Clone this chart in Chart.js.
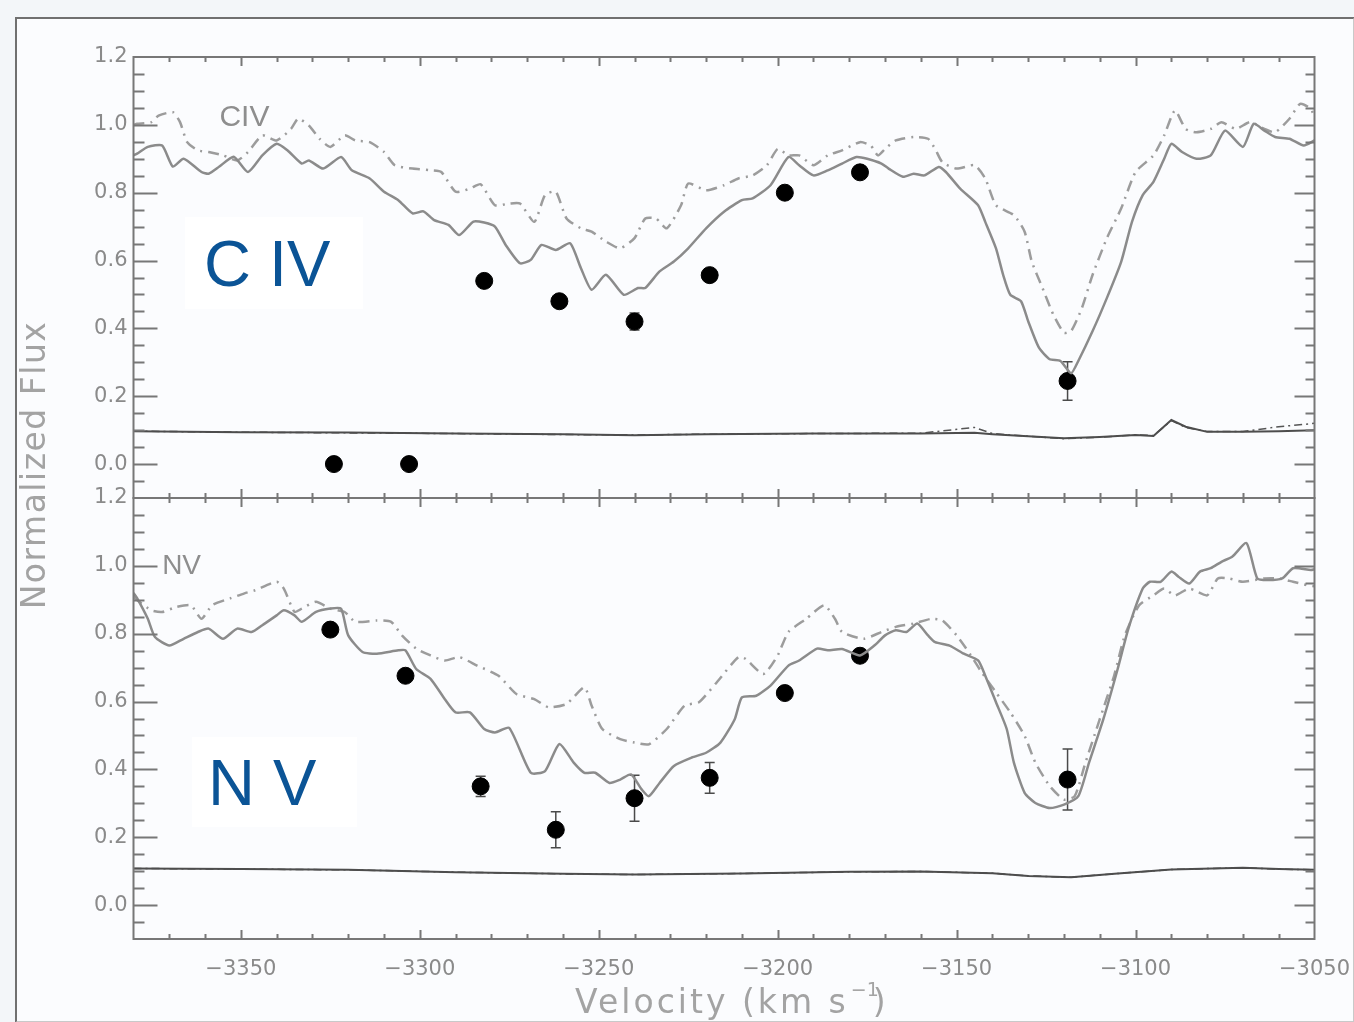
<!DOCTYPE html>
<html lang="en">
<head>
<meta charset="UTF-8">
<title>C IV / N V absorption profiles</title>
<script src="https://cdn.jsdelivr.net/npm/chart.js@4.4.0/dist/chart.umd.min.js"></script>
<style>
  html, body { margin: 0; padding: 0; background: #f3f6f9; }
  #wrap { position: relative; width: 1354px; height: 1022px; overflow: hidden; }
  #frame { position: absolute; left: 15px; top: 17px; width: 1336px; height: 1002px;
           border: 2px solid #707070; border-right-color: #c9c9c9; border-bottom-color: #c9c9c9;
           background: #fbfcfe; }
  #plot { position: absolute; left: 0; top: 0; }
  .ion { position: absolute; background: #fff; }
  .ion span { position: absolute; color: #0b5496; font-family: 'Liberation Sans', Arial, sans-serif;
              font-size: 65px; line-height: 65px; white-space: nowrap; }
</style>
</head>
<body>
<div id="wrap">
  <div id="frame"></div>
  <canvas id="plot" width="1354" height="1022"></canvas>
  <div class="ion" style="left:185px; top:217px; width:178px; height:92px;"><span style="left:19px; top:14px;">C IV</span></div>
  <div class="ion" style="left:192px; top:737px; width:165px; height:90px;"><span style="left:16px; top:13px;">N V</span></div>
</div>

<script>
// ---- C IV panel ----
const civSolidVel = [-3380, -3379, -3376, -3372, -3369, -3366, -3361, -3359, -3356, -3352, -3348, -3344, -3340, -3337, -3333, -3331, -3327, -3322, -3319, -3314, -3310, -3306, -3302, -3299, -3296, -3292, -3289, -3285, -3282, -3279, -3276, -3272, -3269, -3266, -3262, -3258, -3255, -3252, -3248, -3243, -3239, -3237, -3233, -3229, -3225, -3220, -3215, -3210, -3207, -3202, -3197, -3194, -3190, -3186, -3182, -3178, -3175, -3171, -3169, -3165, -3162, -3159, -3155, -3153, -3149, -3144, -3142, -3139, -3137, -3135, -3132, -3130, -3127, -3124, -3121, -3118, -3116, -3112, -3108, -3104, -3101, -3098, -3095, -3092, -3090, -3087, -3083, -3079, -3075, -3070, -3067, -3064, -3061, -3057, -3053, -3050];
const civSolidFlux = [0.91, 0.915, 0.935, 0.939, 0.877, 0.90, 0.861, 0.856, 0.877, 0.906, 0.861, 0.91, 0.944, 0.925, 0.886, 0.895, 0.871, 0.905, 0.866, 0.842, 0.803, 0.778, 0.739, 0.745, 0.719, 0.705, 0.675, 0.715, 0.712, 0.70, 0.646, 0.592, 0.602, 0.646, 0.631, 0.651, 0.578, 0.514, 0.558, 0.499, 0.519, 0.519, 0.568, 0.597, 0.636, 0.695, 0.744, 0.778, 0.783, 0.822, 0.905, 0.881, 0.851, 0.866, 0.886, 0.905, 0.90, 0.886, 0.871, 0.847, 0.856, 0.851, 0.876, 0.861, 0.812, 0.763, 0.714, 0.636, 0.558, 0.499, 0.48, 0.421, 0.343, 0.309, 0.304, 0.268, 0.304, 0.392, 0.49, 0.597, 0.714, 0.793, 0.832, 0.90, 0.944, 0.92, 0.90, 0.91, 0.983, 0.935, 1.003, 0.983, 0.964, 0.959, 0.939, 0.954];

const civDashVel = [-3380, -3379, -3375, -3373, -3369, -3367, -3365, -3362, -3359, -3355, -3351, -3348, -3344, -3340, -3336, -3334, -3331, -3328, -3325, -3321, -3318, -3314, -3310, -3307, -3302, -3297, -3294, -3290, -3286, -3283, -3279, -3275, -3272, -3268, -3265, -3262, -3259, -3255, -3252, -3248, -3244, -3240, -3237, -3234, -3231, -3227, -3225, -3220, -3215, -3211, -3207, -3203, -3200, -3197, -3194, -3190, -3186, -3182, -3177, -3174, -3172, -3170, -3167, -3162, -3158, -3156, -3154, -3150, -3145, -3142, -3139, -3134, -3131, -3129, -3126, -3123, -3120, -3118, -3115, -3112, -3108, -3104, -3100, -3095, -3092, -3089, -3086, -3083, -3079, -3076, -3072, -3068, -3064, -3061, -3057, -3054, -3051, -3050];
const civDashFlux = [1.0, 1.003, 1.008, 1.027, 1.037, 1.008, 0.949, 0.925, 0.92, 0.91, 0.895, 0.92, 0.969, 0.954, 0.988, 1.018, 0.998, 0.959, 0.935, 0.969, 0.954, 0.949, 0.92, 0.881, 0.871, 0.866, 0.861, 0.803, 0.812, 0.825, 0.763, 0.768, 0.768, 0.714, 0.793, 0.803, 0.724, 0.695, 0.685, 0.656, 0.636, 0.666, 0.724, 0.724, 0.695, 0.763, 0.827, 0.807, 0.822, 0.842, 0.851, 0.881, 0.929, 0.91, 0.91, 0.881, 0.91, 0.925, 0.949, 0.939, 0.91, 0.929, 0.954, 0.964, 0.959, 0.929, 0.89, 0.871, 0.881, 0.842, 0.763, 0.734, 0.685, 0.597, 0.519, 0.441, 0.387, 0.392, 0.46, 0.558, 0.666, 0.754, 0.861, 0.91, 0.969, 1.042, 0.988, 0.978, 0.988, 1.008, 0.988, 1.008, 0.988, 0.978, 1.018, 1.062, 1.047, 1.018];

const civErrVel = [-3380, -3350, -3320, -3290, -3260, -3240, -3220, -3190, -3160, -3145, -3140, -3130, -3120, -3110, -3100, -3095, -3090, -3086, -3080, -3070, -3060, -3050];
const civErrFlux = [0.097, 0.094, 0.093, 0.09, 0.088, 0.085, 0.088, 0.09, 0.09, 0.092, 0.088, 0.082, 0.076, 0.08, 0.086, 0.083, 0.13, 0.11, 0.095, 0.095, 0.097, 0.1];
const civErrDashFlux = [0.097, 0.094, 0.092, 0.09, 0.087, 0.086, 0.088, 0.09, 0.091, 0.108, 0.09, 0.082, 0.075, 0.079, 0.086, 0.084, 0.128, 0.108, 0.096, 0.096, 0.11, 0.12];

const civPointVel = [-3324, -3303, -3282, -3261, -3240, -3219, -3198, -3177, -3119];
const civPointFlux = [0.0, 0.0, 0.54, 0.48, 0.42, 0.557, 0.80, 0.86, 0.245];
const civPointErr = [0.0, 0.0, 0.01, 0.015, 0.025, 0.01, 0.01, 0.01, 0.057];

// ---- N V panel ----
const nvSolidVel = [-3380, -3379, -3376, -3374, -3370, -3366, -3362, -3359, -3355, -3351, -3347, -3344, -3340, -3338, -3335, -3333, -3329, -3325, -3322, -3320, -3316, -3312, -3306, -3304, -3301, -3297, -3293, -3290, -3286, -3282, -3279, -3275, -3269, -3265, -3261, -3257, -3254, -3251, -3247, -3244, -3241, -3238, -3236, -3233, -3229, -3224, -3220, -3216, -3212, -3210, -3206, -3202, -3197, -3194, -3189, -3186, -3182, -3177, -3173, -3170, -3167, -3164, -3161, -3158, -3156, -3152, -3148, -3144, -3142, -3139, -3136, -3134, -3131, -3128, -3124, -3120, -3116, -3113, -3109, -3105, -3102, -3098, -3096, -3093, -3090, -3088, -3085, -3082, -3079, -3076, -3073, -3069, -3066, -3063, -3059, -3056, -3051, -3050];
const nvSolidFlux = [0.92, 0.905, 0.844, 0.79, 0.765, 0.785, 0.805, 0.815, 0.785, 0.815, 0.805, 0.825, 0.854, 0.869, 0.854, 0.835, 0.864, 0.874, 0.874, 0.795, 0.746, 0.741, 0.751, 0.751, 0.696, 0.667, 0.607, 0.568, 0.568, 0.519, 0.509, 0.522, 0.39, 0.395, 0.475, 0.42, 0.39, 0.39, 0.36, 0.37, 0.385, 0.341, 0.321, 0.36, 0.41, 0.435, 0.449, 0.479, 0.548, 0.612, 0.617, 0.647, 0.706, 0.721, 0.756, 0.751, 0.755, 0.736, 0.765, 0.795, 0.81, 0.805, 0.83, 0.795, 0.775, 0.765, 0.741, 0.721, 0.676, 0.598, 0.519, 0.42, 0.331, 0.301, 0.286, 0.296, 0.321, 0.42, 0.548, 0.696, 0.815, 0.933, 0.953, 0.953, 0.983, 0.968, 0.948, 0.983, 0.993, 1.012, 1.027, 1.067, 0.963, 0.958, 0.963, 0.993, 0.988, 0.99];

const nvDashVel = [-3380, -3379, -3375, -3372, -3368, -3364, -3361, -3358, -3353, -3349, -3346, -3340, -3338, -3335, -3333, -3329, -3325, -3321, -3318, -3312, -3308, -3305, -3301, -3297, -3293, -3289, -3284, -3278, -3273, -3268, -3264, -3259, -3254, -3252, -3249, -3244, -3240, -3236, -3231, -3226, -3222, -3217, -3211, -3209, -3204, -3200, -3197, -3192, -3187, -3184, -3182, -3176, -3171, -3167, -3162, -3157, -3154, -3150, -3146, -3143, -3139, -3135, -3131, -3128, -3124, -3120, -3117, -3114, -3110, -3106, -3103, -3099, -3095, -3092, -3089, -3085, -3080, -3077, -3074, -3070, -3064, -3060, -3056, -3052, -3050];
const nvDashFlux = [0.91, 0.899, 0.869, 0.864, 0.879, 0.884, 0.844, 0.884, 0.904, 0.919, 0.928, 0.953, 0.933, 0.864, 0.874, 0.894, 0.874, 0.864, 0.835, 0.839, 0.835, 0.795, 0.756, 0.736, 0.721, 0.731, 0.706, 0.676, 0.622, 0.607, 0.583, 0.593, 0.642, 0.588, 0.519, 0.489, 0.479, 0.474, 0.519, 0.588, 0.598, 0.657, 0.731, 0.726, 0.681, 0.736, 0.805, 0.844, 0.884, 0.844, 0.805, 0.785, 0.805, 0.82, 0.83, 0.844, 0.839, 0.795, 0.736, 0.686, 0.627, 0.568, 0.499, 0.42, 0.351, 0.311, 0.321, 0.42, 0.548, 0.676, 0.795, 0.884, 0.913, 0.933, 0.913, 0.933, 0.913, 0.963, 0.963, 0.953, 0.963, 0.963, 0.953, 0.943, 0.94];

const nvErrVel = [-3380, -3350, -3320, -3290, -3260, -3240, -3210, -3180, -3160, -3140, -3130, -3118, -3105, -3090, -3070, -3060, -3050];
const nvErrFlux = [0.108, 0.106, 0.104, 0.097, 0.092, 0.09, 0.093, 0.098, 0.099, 0.094, 0.086, 0.082, 0.093, 0.105, 0.11, 0.106, 0.104];

const nvPointVel = [-3325, -3304, -3283, -3262, -3240, -3219, -3198, -3177, -3119];
const nvPointFlux = [0.812, 0.676, 0.35, 0.222, 0.315, 0.375, 0.625, 0.735, 0.37];
const nvPointErr = [0.01, 0.01, 0.03, 0.053, 0.068, 0.045, 0.01, 0.01, 0.09];

// x ticks / y ticks
const velMin = -3380, velMax = -3050, velStep = 50, velMinor = 10;
const fluxMin = -0.1, fluxMax = 1.2, fluxStep = 0.2, fluxMinor = 0.05;

function pairs(xs, ys) {
  return xs.map((x, i) => ({ x: x, y: ys[i] }));
}

const solidGrey = '#8b8b8b';
const dashGrey = '#9c9c9c';
const dashDot = [11, 6, 2, 6];

function line(xs, ys, axis, color, width, dash, smooth) {
  return {
    data: pairs(xs, ys), yAxisID: axis, borderColor: color, borderWidth: width,
    borderDash: dash || [], pointRadius: 0, tension: smooth || 0, showLine: true, fill: false
  };
}

function dots(xs, ys, errs, axis) {
  return {
    data: pairs(xs, ys), yAxisID: axis, showLine: false, pointRadius: 8.5,
    pointBackgroundColor: '#000', pointBorderColor: '#000', pointBorderWidth: 1,
    errors: errs
  };
}

// draws the vertical error bars of a point set, under the dots
const errorBars = {
  id: 'errorBars',
  beforeDatasetDraw(chart, args) {
    const ds = chart.data.datasets[args.index];
    if (!ds.errors) return;
    const ctx = chart.ctx;
    const x = chart.scales.x, y = chart.scales[ds.yAxisID];
    ctx.save();
    ctx.strokeStyle = '#4a4a4a';
    ctx.lineWidth = 1.5;
    ds.data.forEach((p, i) => {
      const e = ds.errors[i];
      if (!e) return;
      const px = x.getPixelForValue(p.x);
      const y1 = y.getPixelForValue(p.y + e), y2 = y.getPixelForValue(p.y - e);
      ctx.beginPath();
      ctx.moveTo(px, y1); ctx.lineTo(px, y2);
      ctx.moveTo(px - 5, y1); ctx.lineTo(px + 5, y1);
      ctx.moveTo(px - 5, y2); ctx.lineTo(px + 5, y2);
      ctx.stroke();
    });
    ctx.restore();
  }
};

// IDL style box: frame on each panel, ticks pointing inwards on all four sides
const panelBox = {
  id: 'panelBox',
  afterDatasetsDraw(chart) {
    const ctx = chart.ctx;
    const x = chart.scales.x;
    ctx.save();
    ctx.strokeStyle = '#777';
    ctx.lineWidth = 2;
    ['yTop', 'yBot'].forEach(id => {
      const y = chart.scales[id];
      ctx.strokeRect(x.left, y.top, x.right - x.left, y.bottom - y.top);
      ctx.beginPath();
      const n = Math.round((fluxMax - fluxMin) / fluxMinor);
      for (let i = 1; i < n; i++) {
        const v = fluxMin + i * fluxMinor;
        const major = Math.abs(Math.round(v / fluxStep) * fluxStep - v) < 1e-6;
        const py = Math.round(y.getPixelForValue(v)) + 0.5;
        ctx.moveTo(x.left, py); ctx.lineTo(x.left + (major ? 24 : 11), py);
        ctx.moveTo(x.right, py); ctx.lineTo(x.right - (major ? 20 : 9), py);
      }
      for (let v = velMin + velMinor; v < velMax; v += velMinor) {
        const major = v % velStep === 0;
        const px = Math.round(x.getPixelForValue(v)) + 0.5;
        const len = major ? 9 : 5;
        ctx.moveTo(px, y.top); ctx.lineTo(px, y.top + len);
        ctx.moveTo(px, y.bottom); ctx.lineTo(px, y.bottom - len);
      }
      ctx.stroke();
    });
    ctx.restore();
  }
};

function spaced(ctx, text, x, y, gap) {
  ctx.letterSpacing = gap + 'px';
  ctx.fillText(text, x, y);
  ctx.letterSpacing = '0px';
}

// ion names inside the frames and the two axis titles
const labels = {
  id: 'labels',
  afterDraw(chart) {
    const ctx = chart.ctx;
    const x = chart.scales.x, yT = chart.scales.yTop, yB = chart.scales.yBot;
    ctx.save();
    ctx.fillStyle = '#8e8e8e';
    ctx.font = '30px "Liberation Sans", Arial, sans-serif';
    ctx.textBaseline = 'middle';
    ctx.textAlign = 'left';
    ctx.fillText('CIV', x.getPixelForValue(-3356), yT.getPixelForValue(1.02));
    ctx.font = '28px "Liberation Sans", Arial, sans-serif';
    ctx.fillText('NV', x.getPixelForValue(-3372), yB.getPixelForValue(1.0));

    ctx.fillStyle = '#a3a3a3';
    ctx.font = '33px "DejaVu Sans", sans-serif';
    ctx.textAlign = 'center';
    ctx.textBaseline = 'alphabetic';
    ctx.save();
    ctx.translate(45, 465);
    ctx.rotate(-Math.PI / 2);
    spaced(ctx, 'Normalized Flux', 0, 0, 1.5);
    ctx.restore();

    ctx.textAlign = 'left';
    const main = 'Velocity (km s';
    ctx.letterSpacing = '3px';
    const w = ctx.measureText(main).width;
    const x0 = 575;
    ctx.fillText(main, x0, 1013);
    ctx.letterSpacing = '0px';
    ctx.font = '19px "DejaVu Sans", sans-serif';
    ctx.fillText('\u22121', x0 + w + 2, 996);
    ctx.font = '33px "DejaVu Sans", sans-serif';
    ctx.fillText(')', x0 + w + 24, 1013);
    ctx.restore();
  }
};

const tickFont = { family: '"DejaVu Sans", sans-serif', size: 21 };
const tickColor = '#8a8a8a';

function fluxAxis() {
  return {
    type: 'linear', position: 'left', stack: 'panels', stackWeight: 1,
    min: fluxMin, max: fluxMax,
    grid: { display: false, drawTicks: false }, border: { display: false },
    ticks: { stepSize: fluxStep, includeBounds: false, color: tickColor, font: tickFont, padding: 6,
             callback: v => v.toFixed(1) },
    afterFit: s => { s.width = 133.5; }
  };
}

const ctx = document.getElementById('plot').getContext('2d');
new Chart(ctx, {
  type: 'scatter',
  data: {
    datasets: [
      line(civErrVel, civErrFlux, 'yTop', '#4d4d4d', 2),
      line(civErrVel, civErrDashFlux, 'yTop', '#555', 1.5, [8, 4, 2, 4]),
      line(civSolidVel, civSolidFlux, 'yTop', solidGrey, 2.5, null, 0.2),
      line(civDashVel, civDashFlux, 'yTop', dashGrey, 2.5, dashDot, 0.2),
      dots(civPointVel, civPointFlux, civPointErr, 'yTop'),
      line(nvErrVel, nvErrFlux, 'yBot', '#4d4d4d', 2),
      line(nvErrVel, nvErrFlux, 'yBot', '#555', 1.5, [8, 4, 2, 4]),
      line(nvSolidVel, nvSolidFlux, 'yBot', solidGrey, 2.5, null, 0.2),
      line(nvDashVel, nvDashFlux, 'yBot', dashGrey, 2.5, dashDot, 0.2),
      dots(nvPointVel, nvPointFlux, nvPointErr, 'yBot')
    ]
  },
  options: {
    responsive: false,
    animation: false,
    events: [],
    layout: { padding: { top: 57, right: 39.5, bottom: 0, left: 0 } },
    plugins: { legend: { display: false }, tooltip: { enabled: false } },
    scales: {
      x: {
        type: 'linear', position: 'bottom', min: velMin, max: velMax,
        grid: { display: false, drawTicks: false }, border: { display: false },
        ticks: { stepSize: velStep, includeBounds: false, color: tickColor, font: tickFont,
                 padding: 18, maxRotation: 0, autoSkip: false,
                 callback: v => String(v).replace('-', '\u2212') },
        afterFit: s => { s.height = 83; s.paddingLeft = 0; s.paddingRight = 0; }
      },
      // stacked axes are laid out from the bottom up, so the lower panel comes first
      yBot: fluxAxis(),
      yTop: fluxAxis()
    }
  },
  plugins: [errorBars, panelBox, labels]
});
</script>
</body>
</html>
